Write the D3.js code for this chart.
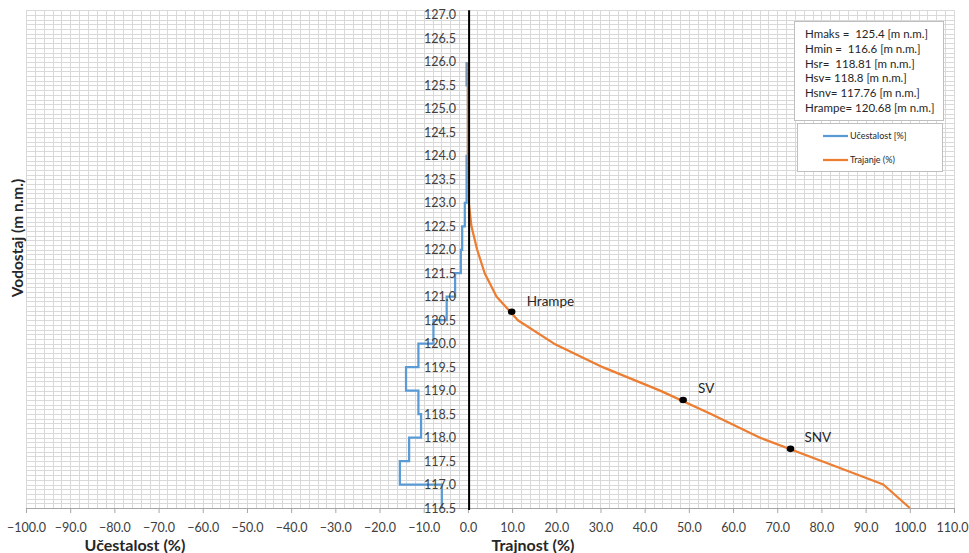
<!DOCTYPE html>
<html>
<head>
<meta charset="utf-8">
<script src="https://cdn.jsdelivr.net/npm/d3@7"></script>
<style>
  html, body { margin: 0; padding: 0; background: #ffffff; }
  svg { display: block; font-family: Lato, "Open Sans", sans-serif; }
  text { white-space: pre; }
</style>
</head>
<body>
<svg id="chart" width="969" height="553"></svg>
<script>
// Water level bands (lower bound of each 0.5 m band) and frequency in each band [%]
const bandLevels = [116.5, 117.0, 117.5, 118.0, 118.5, 119.0, 119.5, 120.0, 120.5, 121.0,
                    121.5, 122.0, 122.5, 123.0, 123.5, 124.0, 124.5, 125.0, 125.5];
const frequency  = [5.9, 15.4, 13.3, 10.6, 11.2, 14.0, 11.2, 7.8, 4.8, 2.9,
                    1.6, 1.3, 0.7, 0.3, 0.3, 0.0, 0.0, 0.0, 0.3];
const bandWidth = 0.5;

// Duration curve: share of time the level is reached or exceeded [%]
const durationLevels = [116.5, 117.0, 117.5, 118.0, 118.5, 119.0, 119.5, 120.0, 120.5, 121.0,
                        121.5, 122.0, 122.5, 123.0, 123.5, 124.0, 124.5, 125.0, 125.5, 126.0];
const duration       = [100.0, 94.0, 80.0, 66.0, 55.0, 43.5, 30.5, 19.5, 11.3, 6.5,
                        3.8, 2.1, 0.8, 0.2, 0.05, 0.0, 0.0, 0.0, 0.0, 0.0];

// Characteristic levels marked on the duration curve
const markerNames     = ["Hrampe", "SV", "SNV"];
const markerLevels    = [120.68, 118.8, 117.76];
const markerDurations = [9.9, 48.7, 73.0];

// Summary statistics box
const statLines = ["Hmaks =  125.4 [m n.m.]", "Hmin =  116.6 [m n.m.]", "Hsr=  118.81 [m n.m.]",
                   "Hsv= 118.8 [m n.m.]", "Hsnv= 117.76 [m n.m.]", "Hrampe= 120.68 [m n.m.]"];

// Axis ticks
const xTicks = d3.range(-100, 110.001, 10);
const yTicks = d3.range(116.5, 127.001, 0.5);
const xMinorGrid = d3.range(-100, 110.001, 2);
const yMinorGrid = d3.range(116.5, 127.15, 0.1);

const blue = "#5b9bd5", orange = "#ed7d31";

const svg = d3.select("#chart");
const x = d3.scaleLinear().domain([-100, 110]).range([26, 954]);
const y = d3.scaleLinear().domain([116.5, 127.1]).range([508, 10.3]);

// Grid
const grid = svg.append("g").attr("stroke", "#d9d9d9").attr("stroke-width", 1);
grid.selectAll("line.v").data(xMinorGrid).join("line")
  .attr("x1", d => Math.round(x(d)) + 0.5).attr("x2", d => Math.round(x(d)) + 0.5)
  .attr("y1", y(127.1)).attr("y2", y(116.5));
grid.selectAll("line.h").data(yMinorGrid).join("line")
  .attr("x1", x(-100)).attr("x2", x(110))
  .attr("y1", d => Math.round(y(d)) + 0.5).attr("y2", d => Math.round(y(d)) + 0.5);

// Bottom axis
const xAxis = d3.axisBottom(x).tickValues(xTicks).tickSize(5).tickFormat(d3.format(".1f"));
const gx = svg.append("g").attr("transform", `translate(0,${y(116.5)})`).call(xAxis);
gx.select(".domain").attr("stroke", "#a6a6a6");
gx.selectAll(".tick line").attr("stroke", "#a6a6a6");
gx.selectAll(".tick text").attr("fill", "#404040").attr("font-size", 12.5)
  .attr("font-family", "Lato, sans-serif").attr("dy", "1.3em");
// keep the last label inside the page edge
gx.selectAll(".tick text").filter(d => d === 110)
  .attr("text-anchor", "end").attr("x", 968 - x(110));

// Frequency step line (plotted on the negative side)
const stepPts = [];
bandLevels.forEach((h, i) => {
  stepPts.push([-frequency[i], h]);
  stepPts.push([-frequency[i], h + bandWidth]);
});
const line = d3.line().x(d => x(d[0])).y(d => y(d[1]));
svg.append("path").datum(stepPts)
  .attr("fill", "none").attr("stroke", blue).attr("stroke-width", 2.25)
  .attr("d", line);

// Duration curve
svg.append("path").datum(durationLevels.map((h, i) => [duration[i], h]))
  .attr("fill", "none").attr("stroke", orange).attr("stroke-width", 2.25)
  .attr("stroke-linejoin", "round")
  .attr("d", line);

// Vertical axis line at 0
svg.append("line")
  .attr("x1", x(0) + 1.2).attr("x2", x(0) + 1.2)
  .attr("y1", y(127.1)).attr("y2", y(116.5) + 2)
  .attr("stroke", "#000").attr("stroke-width", 2);

// Level labels
svg.append("g").selectAll("text").data(yTicks).join("text")
  .attr("x", 456).attr("y", d => y(d)).attr("dy", "0.36em")
  .attr("text-anchor", "end").attr("font-size", 12.5).attr("fill", "#404040")
  .text(d => d.toFixed(1));

// Markers and their labels
const mk = svg.append("g");
mk.selectAll("ellipse").data(markerNames).join("ellipse")
  .attr("cx", (d, i) => x(markerDurations[i])).attr("cy", (d, i) => y(markerLevels[i]))
  .attr("rx", 3.8).attr("ry", 3.3).attr("fill", "#000");
const labelOffsets = [[15, -6], [15, -7], [14, -7]];
mk.selectAll("text").data(markerNames).join("text")
  .attr("x", (d, i) => x(markerDurations[i]) + labelOffsets[i][0])
  .attr("y", (d, i) => y(markerLevels[i]) + labelOffsets[i][1])
  .attr("font-size", 13.5).attr("fill", "#262626")
  .text(d => d);

// Axis titles
svg.append("text").attr("x", 135).attr("y", 545).attr("dy", "0.35em")
  .attr("text-anchor", "middle").attr("font-size", 16).attr("font-weight", "bold")
  .attr("fill", "#262626").text("Učestalost (%)");
svg.append("text").attr("x", 533).attr("y", 545).attr("dy", "0.35em")
  .attr("text-anchor", "middle").attr("font-size", 16).attr("font-weight", "bold")
  .attr("fill", "#262626").text("Trajnost (%)");
svg.append("text").attr("transform", "translate(18,238) rotate(-90)").attr("dy", "0.35em")
  .attr("text-anchor", "middle").attr("font-size", 15.5).attr("font-weight", "bold")
  .attr("fill", "#262626").text("Vodostaj (m n.m.)");

// Statistics box
const stat = svg.append("g");
stat.append("rect").attr("x", 794.5).attr("y", 21.5).attr("width", 149).attr("height", 99)
  .attr("fill", "#fff").attr("stroke", "#bfbfbf");
stat.selectAll("text").data(statLines).join("text")
  .attr("x", 805).attr("y", (d, i) => 34 + i * 14.8).attr("dy", "0.35em")
  .attr("font-size", 11.5).attr("fill", "#262626").text(d => d);

// Legend
const legendItems = [{name: "Učestalost [%]", color: blue}, {name: "Trajanje (%)", color: orange}];
const lg = svg.append("g");
lg.append("rect").attr("x", 797.5).attr("y", 123.5).attr("width", 145).attr("height", 48)
  .attr("fill", "#fff").attr("stroke", "#bfbfbf");
const li = lg.selectAll("g").data(legendItems).join("g")
  .attr("transform", (d, i) => `translate(0,${136 + i * 24})`);
li.append("line").attr("x1", 823).attr("x2", 848).attr("y1", 0).attr("y2", 0)
  .attr("stroke", d => d.color).attr("stroke-width", 2.25);
li.append("text").attr("x", 850).attr("y", 0).attr("dy", "0.35em")
  .attr("font-size", 9).attr("fill", "#262626").text(d => d.name);
</script>
</body>
</html>
